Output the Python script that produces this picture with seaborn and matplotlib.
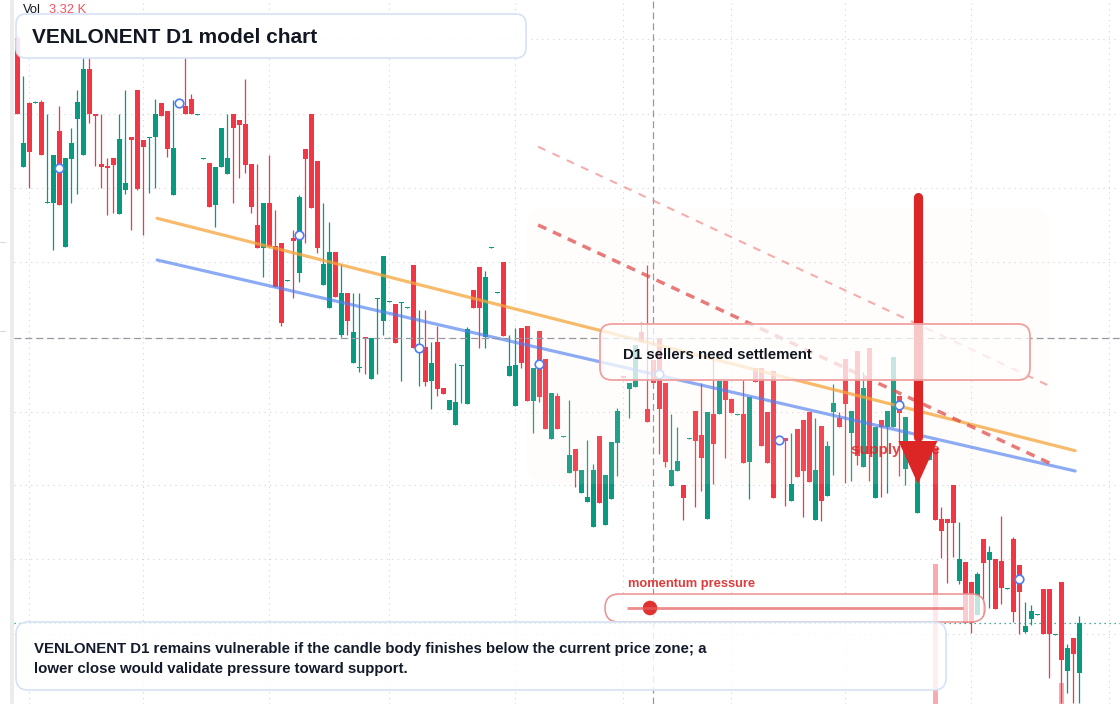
import numpy as np
import matplotlib
matplotlib.use("Agg")
import matplotlib.pyplot as plt
from matplotlib.patches import FancyBboxPatch, Rectangle, Circle
import seaborn as sns

# candle data (price units), one row of ten candles per line
opens = [962, 833, 897, 897, 898, 797, 797, 869, 753, 841,
         881, 845, 931, 886, 836, 834, 842, 786, 810, 863,
         910, 860, 862, 863, 897, 889, 805, 898, 894, 901,
         885, 841, 837, 795, 833, 826, 886, 880, 876, 836,
         775, 752, 797, 754, 757, 719, 762, 727, 851, 886,
         839, 715, 692, 748, 665, 707, 637, 632, 663, 621,
         701, 679, 698, 696, 697, 692, 735, 650, 653, 619,
         658, 612, 590, 575, 634, 596, 710, 733, 663, 752,
         707, 738, 624, 594, 672, 674, 599, 669, 641, 561,
         604, 563, 527, 551, 507, 498, 473, 564, 475, 501,
         557, 624, 611, 613, 668, 591, 640, 662, 617, 514,
         529, 515, 561, 589, 565, 481, 586, 586, 619, 601,
         585, 586, 538, 632, 632, 588, 629, 562, 562, 499,
         571, 580, 588, 480, 574, 504, 588, 582, 641, 567,
         649, 533, 652, 502, 580, 573, 573, 604, 531, 555,
         487, 555, 540, 552, 481, 481, 515, 419, 438, 418,
         385, 461, 440, 441, 439, 411, 461, 435, 368, 381,
         385, 411, 411, 365, 418, 329, 362, 327]
highs = [965, 924, 898, 899, 900, 886, 845, 894, 842, 872,
         910, 942, 942, 886, 886, 842, 842, 886, 910, 863,
         910, 860, 863, 901, 897, 889, 900, 900, 942, 906,
         886, 842, 837, 833, 872, 886, 886, 880, 921, 836,
         836, 797, 845, 790, 757, 720, 770, 805, 851, 886,
         839, 797, 778, 748, 736, 707, 707, 707, 663, 662,
         702, 744, 699, 696, 698, 693, 735, 690, 690, 658,
         674, 612, 600, 637, 635, 673, 710, 733, 729, 753,
         708, 738, 665, 672, 672, 674, 632, 669, 641, 607,
         607, 564, 600, 551, 530, 560, 536, 564, 525, 558,
         592, 624, 617, 655, 678, 735, 640, 662, 617, 586,
         573, 515, 562, 589, 617, 588, 642, 619, 619, 601,
         586, 620, 603, 632, 632, 588, 629, 562, 562, 567,
         571, 580, 588, 582, 574, 559, 616, 588, 641, 589,
         649, 628, 652, 573, 580, 589, 643, 604, 583, 555,
         550, 555, 555, 552, 493, 481, 515, 478, 438, 418,
         428, 461, 454, 441, 484, 412, 463, 435, 398, 395,
         386, 411, 411, 366, 418, 356, 362, 384]
lows = [886, 833, 812, 897, 845, 797, 750, 795, 753, 797,
        806, 845, 877, 834, 812, 785, 787, 786, 806, 770,
        810, 765, 807, 812, 884, 843, 805, 894, 886, 886,
        885, 841, 793, 773, 833, 826, 797, 822, 827, 787,
        752, 723, 753, 713, 674, 719, 702, 718, 757, 792,
        747, 715, 692, 703, 663, 665, 637, 628, 626, 621,
        626, 665, 698, 657, 619, 692, 652, 614, 614, 591,
        604, 606, 590, 575, 597, 596, 692, 652, 652, 752,
        707, 664, 624, 594, 632, 599, 567, 598, 571, 561,
        571, 563, 527, 513, 507, 498, 473, 497, 475, 501,
        524, 622, 582, 613, 658, 578, 617, 546, 533, 514,
        529, 480, 561, 493, 509, 481, 516, 586, 542, 587,
        585, 537, 501, 618, 554, 537, 502, 558, 494, 499,
        523, 483, 518, 480, 479, 504, 525, 573, 517, 519,
        535, 533, 519, 502, 503, 507, 573, 524, 515, 540,
        487, 540, 540, 480, 442, 417, 443, 416, 377, 367,
        385, 384, 392, 391, 396, 411, 378, 366, 367, 375,
        385, 366, 322, 365, 297, 307, 297, 297]
closes = [886, 857, 848, 898, 845, 798, 845, 795, 842, 857,
          898, 931, 886, 884, 833, 832, 835, 861, 817, 860,
          811, 853, 863, 886, 884, 851, 852, 896, 886, 886,
          886, 842, 793, 833, 872, 842, 872, 875, 835, 793,
          752, 797, 753, 713, 677, 720, 759, 803, 841, 792,
          752, 736, 748, 703, 707, 679, 668, 633, 661, 662,
          702, 744, 699, 657, 698, 693, 652, 655, 618, 637,
          611, 606, 600, 598, 635, 671, 692, 692, 723, 753,
          708, 664, 634, 635, 637, 599, 632, 603, 571, 607,
          571, 564, 545, 529, 530, 503, 530, 497, 525, 558,
          589, 622, 617, 655, 658, 578, 617, 591, 538, 530,
          539, 502, 562, 559, 542, 588, 556, 619, 600, 587,
          586, 537, 603, 618, 554, 537, 502, 558, 559, 516,
          523, 529, 518, 530, 499, 554, 597, 573, 596, 589,
          544, 612, 546, 573, 573, 589, 643, 587, 583, 540,
          545, 540, 555, 480, 469, 477, 477, 441, 377, 377,
          426, 437, 448, 391, 412, 412, 388, 408, 374, 389,
          386, 366, 366, 366, 340, 352, 346, 377]

# volume (K) only where bars show
vol_idx = [153, 174]
vol_vals = [22.1, 3.32]

# trend lines: (index, price) endpoints
orange_x = [23.3, 176.3]
orange_y = [781.7, 549.3]
blue_x = [23.3, 176.3]
blue_y = [740.0, 529.0]
dash_light_x = [86.8, 172.4]
dash_light_y = [853.3, 613.0]
dash_red_x = [86.8, 172.4]
dash_red_y = [775.0, 536.0]

# marker every 20 candles
marker_idx = [7, 27, 47, 67, 87, 107, 127, 147, 167]

grid_x = [2, 21, 42, 62, 83, 101, 119, 138, 159, 182]
grid_y = [961, 886, 812, 738, 662, 588, 515, 441, 366]

cross_x = 106
cross_y = 662

zone_x = [84.95, 172.1]
zone_y = [516, 793]

arrow_x = 150.1
arrow_top = 803
arrow_base = 559
arrow_tip = 516

GREEN = "#089981"
RED = "#f23645"

sns.set_style("white")
plt.rcParams["font.family"] = ["Liberation Sans", "DejaVu Sans"]

fig = plt.figure(figsize=(11.2, 7.04), dpi=100)
W, H = 1120, 704
pos = [14 / W, 0, (W - 14) / W, 1]

# volume pane (under everything)
axv = fig.add_axes(pos)
axv.set_xlim(-0.55, 183.78)
axv.set_ylim(0, 111.1)
axv.axis("off")
axv.bar(vol_idx, vol_vals, width=0.78, color=RED, alpha=0.42, linewidth=0)

ax = fig.add_axes(pos)
ax.set_xlim(-0.55, 183.78)
ax.set_ylim(296, 1000)
ax.axis("off")

for gx in grid_x:
    ax.axvline(gx, color="#cfd3da", lw=0.8, ls=(0, (1, 4)), zorder=0.5)
for gy in grid_y:
    ax.axhline(gy, color="#cfd3da", lw=0.8, ls=(0, (1, 4)), zorder=0.5)

o = np.array(opens, float)
h = np.array(highs, float)
l = np.array(lows, float)
c = np.array(closes, float)
x = np.arange(len(o))
cols = np.where(c >= o, GREEN, RED)
body_lo = np.minimum(o, c)
body_h = np.maximum(np.abs(c - o), 1.4)

ax.axhline(c[-1], color=GREEN, lw=0.9, ls=(0, (1, 3)), zorder=1.5)
ax.vlines(x, l, h, colors=cols, lw=0.9, zorder=2)
ax.bar(x, body_h, bottom=body_lo, width=0.78, color=cols, linewidth=0, zorder=2.1)

# supply zone shading
zone = FancyBboxPatch((zone_x[0], zone_y[0]), zone_x[1] - zone_x[0], zone_y[1] - zone_y[0],
                      boxstyle="round,pad=0,rounding_size=3.3", mutation_aspect=6,
                      fc=(1.0, 0.93, 0.88), alpha=0.1, ec="none", zorder=3)
ax.add_patch(zone)

sns.lineplot(x=orange_x, y=orange_y, ax=ax, color="#f5a43a", lw=2.3, alpha=0.75, zorder=4)
sns.lineplot(x=blue_x, y=blue_y, ax=ax, color="#4f7ff0", lw=2.3, alpha=0.65, zorder=4)
ax.plot(dash_light_x, dash_light_y, color="#ee6b6b", lw=1.5, alpha=0.55,
        ls=(0, (3.8, 3.8)), zorder=4)
ax.plot(dash_red_x, dash_red_y, color="#e04848", lw=2.5, alpha=0.72,
        ls=(0, (2.6, 2.1)), zorder=4)

mk_y = [(o[i] + c[i]) / 2 for i in marker_idx]
sns.scatterplot(x=marker_idx, y=mk_y, ax=ax, s=38, color="white",
                edgecolor="#4f7cf0", linewidth=1.2, zorder=5)

ax.axvline(cross_x, color="#9598a1", lw=0.9, ls=(0, (5.5, 3.2)), zorder=6)
ax.axhline(cross_y, color="#9598a1", lw=0.9, ls=(0, (5.5, 3.2)), zorder=6)

ax.text(139.0, 546, "supply zone", color="#dc2626", fontsize=11, fontweight="bold",
        va="baseline", ha="left", alpha=0.85, zorder=6.5)

# big arrow
ax.plot([arrow_x, arrow_x], [arrow_top, arrow_base + 4], color="#dc2626", lw=6.6,
        solid_capstyle="round", zorder=7)
ax.fill([arrow_x - 3.25, arrow_x + 3.25, arrow_x], [arrow_base, arrow_base, arrow_tip],
        color="#dc2626", lw=0, zorder=7)

# overlay in pixel space for notes
ov = fig.add_axes([0, 0, 1, 1], zorder=10)
ov.set_xlim(0, W)
ov.set_ylim(H, 0)
ov.axis("off")

ov.add_patch(Rectangle((10, 0), 4, H, color="#ececec", lw=0))
ov.plot([0, 5], [242, 242], color="#d9d9d9", lw=0.8)
ov.plot([0, 5], [331, 331], color="#d9d9d9", lw=0.8)


def note_box(x0, y0, x1, y1, r, ec, alpha, lw):
    ov.add_patch(FancyBboxPatch((x0, y0), x1 - x0, y1 - y0,
                                boxstyle=f"round,pad=0,rounding_size={r}",
                                fc=(1, 1, 1, alpha), ec=ec, lw=lw))


note_box(16, 14, 526, 58, 10, "#d6e2f5", 0.88, 1.2)
ov.text(32, 43.3, "VENLONENT D1 model chart", fontsize=15, fontweight="bold",
        color="#131722", va="baseline")
ov.text(23.3, 12.7, "Vol", fontsize=9.3, color="#131722", va="baseline")
ov.text(49.3, 12.7, "3.32 K", fontsize=9.3, color="#f7525f", va="baseline")

note_box(600, 324, 1030, 380, 12, "#f0a0a0", 0.75, 1.3)
ov.text(622.7, 359.3, "D1 sellers need settlement", fontsize=10.8, fontweight="bold",
        color="#131722", va="baseline")

note_box(605, 594, 985, 622, 14, "#ee8e8e", 0.75, 1.1)
ov.text(627.7, 586.7, "momentum pressure", fontsize=9.3, fontweight="bold",
        color="#e03b3b", va="baseline")
ov.plot([627, 963], [608, 608], color="#e65c5c", lw=2.0, alpha=0.7, solid_capstyle="butt")
ov.add_patch(Circle((650, 608), 7.3, color="#e03131", lw=0))

note_box(16, 622, 946, 690, 12, "#d6e2f5", 0.82, 1.2)
ov.text(34, 652.5, "VENLONENT D1 remains vulnerable if the candle body finishes below the current price zone; a",
        fontsize=10.8, fontweight="bold", color="#131a2a", va="baseline")
ov.text(34, 672.5, "lower close would validate pressure toward support.",
        fontsize=10.8, fontweight="bold", color="#131a2a", va="baseline")

fig.savefig("out.png", dpi=100)
